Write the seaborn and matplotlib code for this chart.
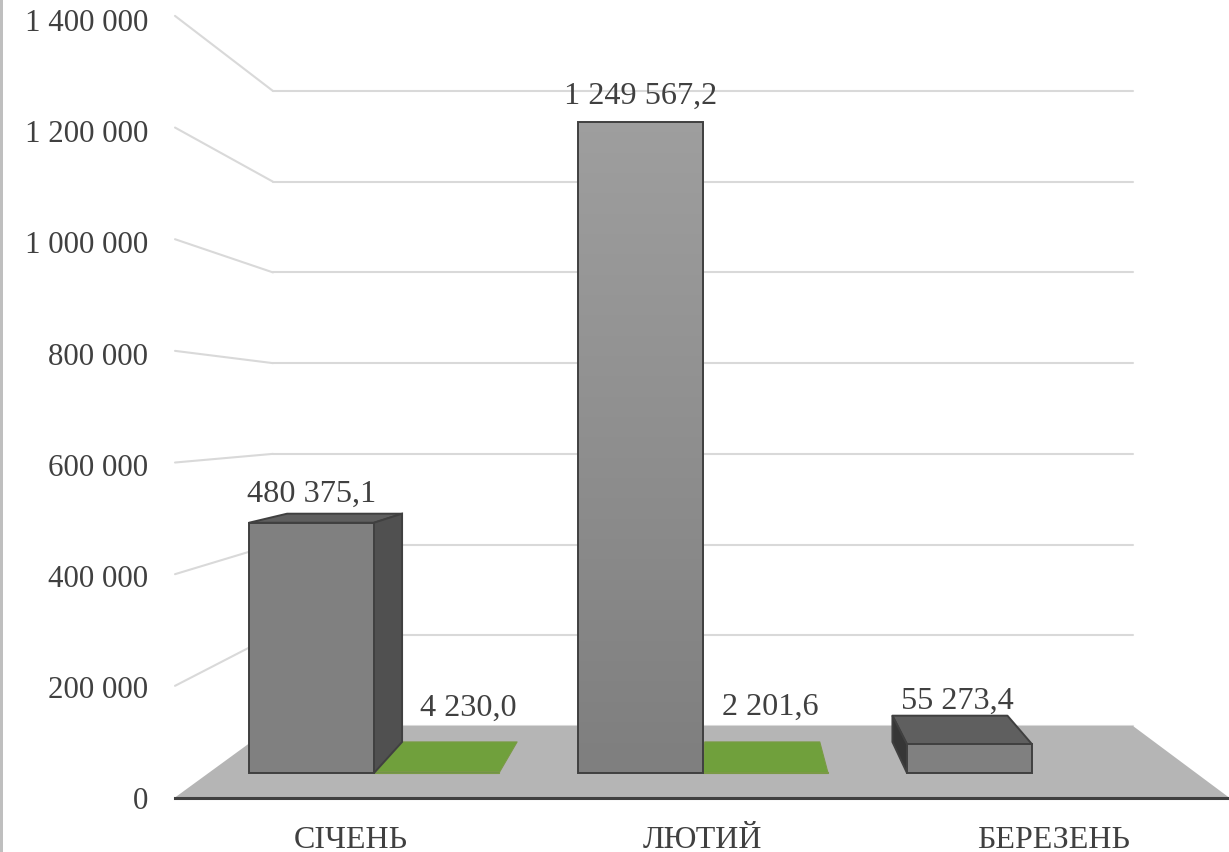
import numpy as np
import pandas as pd
import seaborn as sns
import matplotlib
matplotlib.use("Agg")
import matplotlib.pyplot as plt
from matplotlib.colors import LinearSegmentedColormap
from matplotlib.patches import Polygon, Rectangle
from matplotlib.transforms import IdentityTransform

# Data
months = ["СІЧЕНЬ", "ЛЮТИЙ", "БЕРЕЗЕНЬ"]
series_a = [480375.1, 1249567.2, 55273.4]
series_b = [4230.0, 2201.6, np.nan]
y_ticks = [0, 200000, 400000, 600000, 800000, 1000000, 1200000, 1400000]

# Figure geometry, in pixels from the top left
W, H = 1229, 853
DEPTH_X, DEPTH_Y = 0.08, 0.088
VP_X, VP_Y = 725, H - 421  # vanishing point, display coords
BASE = 774
TEXT = "#404040"
GRID = "#D9D9D9"

sns.set_theme(style="white")
plt.rcParams["font.family"] = ["Liberation Serif", "DejaVu Serif"]
plt.rcParams["font.size"] = 23.2


def box(left, right, top, bottom):
    return [left / W, 1 - bottom / H, (right - left) / W, (bottom - top) / H]


def project(pt):
    return (pt[0] + DEPTH_X * (VP_X - pt[0]), pt[1] + DEPTH_Y * (VP_Y - pt[1]))


def fmt(v, decimals=0):
    s = f"{v:,.{decimals}f}"
    return s.replace(",", " ").replace(".", ",")


fig = plt.figure(figsize=(W / 100, H / 100), dpi=100)
fig.patch.set_facecolor("white")
fig.add_artist(Rectangle((0, 0), 2.5, H, transform=IdentityTransform(), color="#BFBFBF", lw=0))

# Back wall
wall = fig.add_axes(box(273, 1133, 92, 727), zorder=0)
wall.patch.set_alpha(0)
wall.set_ylim(0, 1400000)
wall.set_yticks(y_ticks)
wall.set_xticks([])
wall.tick_params(left=False, labelleft=False)
wall.grid(axis="y", color=GRID, lw=1.5, clip_on=False)
sns.despine(ax=wall, left=True, bottom=True)

# Front plane: value and month labels, base line
front = fig.add_axes(box(175, 1229, 20, 798.5), zorder=1)
front.patch.set_alpha(0)
front.set_xlim(-0.5, 2.5)
front.set_ylim(0, 1400000)
front.set_yticks(y_ticks, [fmt(v) for v in y_ticks], color=TEXT)
front.set_xticks(range(len(months)), months, color=TEXT)
front.tick_params(axis="y", left=False, pad=13.5, labelsize=22.3)
front.tick_params(axis="x", bottom=False, pad=13.5, labelsize=23)
sns.despine(ax=front, left=True)
front.spines["bottom"].set_color(TEXT)
front.spines["bottom"].set_linewidth(2.2)
front.spines["bottom"].set_zorder(5)

# Floor and the diagonal grid lines joining front plane and wall
fig.canvas.draw()
f_x0 = front.transAxes.transform((0, 0))
f_x1 = front.transAxes.transform((1, 0))
w_x0 = wall.transAxes.transform((0, 0))
w_x1 = wall.transAxes.transform((1, 0))
front.add_patch(Polygon([f_x0, f_x1, w_x1, w_x0], transform=IdentityTransform(),
                        color="#B5B5B5", lw=0, clip_on=False, zorder=1))
for v in y_ticks[1:]:
    # diagonals start slightly above their labels
    a = front.transData.transform((-0.5, v * 1.004))
    b = wall.transData.transform((wall.get_xlim()[0], v))
    front.plot([a[0], b[0]], [a[1], b[1]], transform=IdentityTransform(),
               color=GRID, lw=1.5, clip_on=False, zorder=0.5)

# Bars
df = pd.DataFrame({
    "month": months * 2,
    "series": ["a"] * 3 + ["b"] * 3,
    "value": series_a + series_b,
})
ax = fig.add_axes([0, 0, 1, 1], zorder=2)
ax.patch.set_alpha(0)
sns.barplot(data=df, x="month", y="value", hue="series", palette=["#808080", "#70A03C"],
            width=0.76, gap=0, legend=False, ax=ax)
unit = 329.0
per_value = 651.0 / 1249567.2
ax.set_xlim(-374 / unit, (W - 374) / unit)
ax.set_ylim((BASE - H) / per_value, BASE / per_value)
ax.axis("off")
fig.canvas.draw()

faces = [("#505050", "#5F5F5F", "#363636", TEXT, 1.4, 3),
         ("#70A03C", "#70A03C", "#70A03C", "#7A9A45", 0.8, 1.5)]
for container, style in zip(ax.containers, faces):
    side_c, top_c, left_c, edge, lw, z = style
    for bar in container:
        if np.isnan(bar.get_height()):
            continue
        x0, x1 = bar.get_x(), bar.get_x() + bar.get_width()
        (l, b) = ax.transData.transform((x0, 0))
        (r, t) = ax.transData.transform((x1, bar.get_height()))
        # flat bars: take the top face from the floor level
        y = b if t - b < 5 else t
        # above the vanishing point the top face is out of sight
        if project((l, y))[1] > y:
            top = [(l, y), (r, y), project((r, y)), project((l, y))]
            ax.add_patch(Polygon(top, transform=IdentityTransform(), fc=top_c, ec=edge, lw=lw,
                                 zorder=z - 0.3, joinstyle="round"))
        # a bar close to the vanishing point shows no side face
        if t - b >= 5 and r < VP_X - 100:
            side = [(r, b), (r, t), project((r, t)), project((r, b))]
            ax.add_patch(Polygon(side, transform=IdentityTransform(), fc=side_c, ec=edge, lw=lw, zorder=z - 0.2))
        elif t - b >= 5 and l > VP_X:
            side = [(l, b), (l, t), project((l, t)), project((l, b))]
            ax.add_patch(Polygon(side, transform=IdentityTransform(), fc=left_c, ec=edge, lw=lw, zorder=z - 0.2))
        bar.set_edgecolor(edge)
        bar.set_linewidth(lw)
        bar.set_zorder(z)

# Tallest bar fades lighter towards the top
tall = ax.containers[0][1]
xlim, ylim = ax.get_xlim(), ax.get_ylim()
fade = LinearSegmentedColormap.from_list("fade", ["#7F7F7F", "#9E9E9E"])
img = ax.imshow(np.linspace(0, 1, 64)[:, None], cmap=fade, origin="lower", aspect="auto",
                extent=(tall.get_x(), tall.get_x() + tall.get_width(), 0, tall.get_height()), zorder=2.9)
img.set_clip_path(tall)
tall.set_facecolor("none")
ax.set_xlim(xlim)
ax.set_ylim(ylim)

# Value labels: offsets in pixels from the top centre of each bar
offsets_a = [(0, 29), (0, 27), (-12, 44)]
offsets_b = [(32, 63), (5, 66)]
for container, values, offsets in [(ax.containers[0], series_a, offsets_a),
                                   (ax.containers[1], series_b, offsets_b)]:
    for bar, v, off in zip(container, values, offsets):
        ax.annotate(fmt(v, 1), (bar.get_x() + bar.get_width() / 2, v), xytext=off,
                    textcoords="offset pixels", ha="center", va="center", color=TEXT, zorder=6)

fig.savefig("out.png", dpi=100)
